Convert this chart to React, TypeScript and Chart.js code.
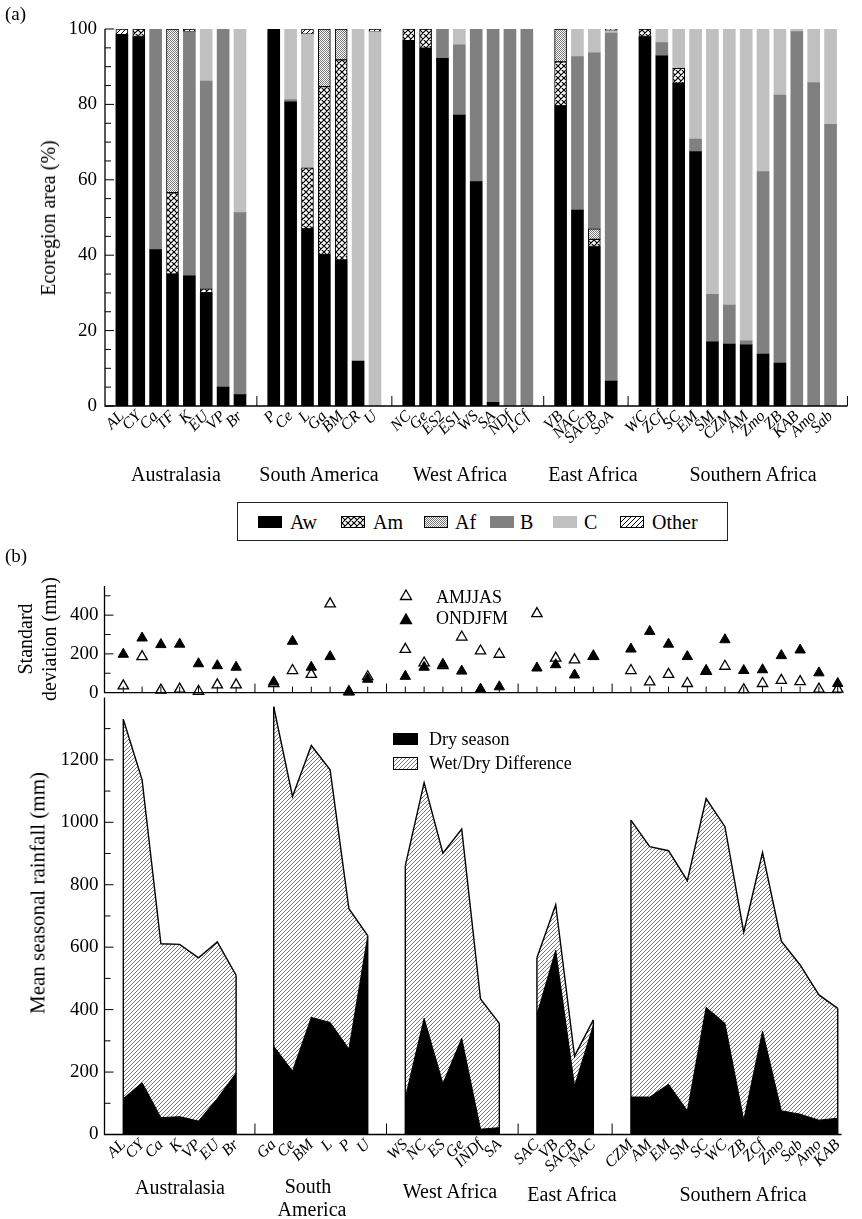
import React, { useEffect, useMemo, useRef } from 'react';
import { Chart, registerables } from 'chart.js';

Chart.register(...registerables);

const SERIF = '"Liberation Serif", "DejaVu Serif", serif';
Chart.defaults.font.family = SERIF;

/* ---------------- (a) climate composition of each ecoregion (%) ---------------- */
const ecoGroups = ['Australasia', 'South America', 'West Africa', 'East Africa', 'Southern Africa'];
const ecoRegions = [
  ['AL', 'CY', 'Ca', 'TF', 'K', 'EU', 'VP', 'Br'],
  ['P', 'Ce', 'L', 'Ga', 'BM', 'CR', 'U'],
  ['NC', 'Ge', 'ES2', 'ES1', 'WS', 'SA', 'NDf', 'LCf'],
  ['VB', 'NAC', 'SACB', 'SoA'],
  ['WC', 'ZCf', 'SC', 'EM', 'SM', 'CZM', 'AM', 'Zmo', 'ZB', 'KAB', 'Amo', 'Sab'],
];
const awPct = [98.5, 98, 41.5, 35, 34.5, 30, 5, 3, 100, 80.7, 47, 40.1, 38.7, 11.9, 0, 96.9, 94.9, 92.2, 77.2, 59.5, 1, 0, 0, 79.6, 52, 42.3, 6.6, 98, 92.9, 85.6, 67.5, 17, 16.4, 16.2, 13.8, 11.4, 0, 0, 0];
const amPct = [0, 2, 0, 21.6, 0, 1.1, 0, 0, 0, 0, 16.2, 44.6, 53.1, 0, 0, 3.1, 5.1, 0, 0, 0, 0, 0, 0, 11.7, 0, 1.9, 0, 2, 0, 4, 0, 0, 0, 0, 0, 0, 0, 0, 0];
const afPct = [0, 0, 0, 43.4, 0, 0, 0, 0, 0, 0, 0, 15.3, 8.2, 0, 0, 0, 0, 0, 0, 0, 0, 0, 0, 8.7, 0, 2.8, 0, 0, 0, 0, 0, 0, 0, 0, 0, 0, 0, 0, 0];
const bPct = [0, 0, 58.5, 0, 64.8, 55.1, 95, 48.3, 0, 0.6, 0, 0, 0, 0, 0, 0, 0, 7.8, 18.6, 40.5, 99, 100, 100, 0, 40.7, 46.7, 92.3, 0, 3.5, 0, 3.3, 12.6, 10.4, 1.1, 48.4, 71.1, 99.3, 85.8, 74.7];
const cPct = [0, 0, 0, 0, 0, 13.8, 0, 48.7, 0, 18.7, 35.4, 0, 0, 88.1, 99.3, 0, 0, 0, 4.2, 0, 0, 0, 0, 0, 7.3, 6.3, 0.6, 0, 3.6, 10.4, 29.2, 70.4, 73.2, 82.7, 37.8, 17.5, 0.7, 14.2, 25.3];
const otherPct = [1.5, 0, 0, 0, 0.7, 0, 0, 0, 0, 0, 1.4, 0, 0, 0, 0.7, 0, 0, 0, 0, 0, 0, 0, 0, 0, 0, 0, 0.5, 0, 0, 0, 0, 0, 0, 0, 0, 0, 0, 0, 0];
const ecoTicks = [0, 20, 40, 60, 80, 100];

/* ---------------- (b) seasonal rainfall and its variability ---------------- */
const rainGroups = ['Australasia', 'South America', 'West Africa', 'East Africa', 'Southern Africa'];
const rainRegions = [
  ['AL', 'CY', 'Ca', 'K', 'VP', 'EU', 'Br'],
  ['Ga', 'Ce', 'BM', 'L', 'P', 'U'],
  ['WS', 'NC', 'ES', 'Ge', 'INDf', 'SA'],
  ['SAC', 'VB', 'SACB', 'NAC'],
  ['CZM', 'AM', 'EM', 'SM', 'SC', 'WC', 'ZB', 'ZCf', 'Zmo', 'Sab', 'Amo', 'KAB'],
];
const sdAMJJAS = [35, 186, 13, 18, 7, 40, 40, 47, 114, 94, 458, 5, 82, 223, 153, 140, 287, 215, 198, 408, 178, 169, 188, 114, 55, 94, 47, 110, 136, 15, 47, 63, 57, 18, 18];
const sdONDJFM = [198, 282, 248, 250, 149, 139, 131, 55, 265, 131, 186, 3, 69, 84, 131, 146, 111, 18, 30, 127, 144, 91, 186, 225, 316, 250, 186, 114, 273, 114, 118, 191, 220, 102, 47];
const dryRain = [115, 166, 54, 57, 43, 115, 197, 283, 203, 375, 359, 274, 635, 118, 372, 163, 308, 17, 22, 384, 590, 155, 350, 120, 120, 161, 76, 407, 356, 46, 331, 76, 65, 46, 52];
const wetRain = [1330, 1136, 611, 609, 566, 617, 510, 1370, 1083, 1246, 1168, 723, 637, 861, 1127, 901, 978, 434, 356, 566, 736, 251, 367, 1007, 922, 909, 813, 1076, 986, 648, 903, 619, 543, 447, 404];
const sdTicks = [0, 200, 400];
const rainTicks = [0, 200, 400, 600, 800, 1000, 1200];

const RAIN_XMAX = 39.2;

type Kind = 'cross' | 'checker' | 'diag' | 'hatch';

// small repeating tiles used as fill patterns
function makeTile(kind: Kind): HTMLCanvasElement {
  const c = document.createElement('canvas');
  const s = kind === 'cross' ? 6 : kind === 'checker' ? 2 : kind === 'diag' ? 5 : 4;
  c.width = s;
  c.height = s;
  const g = c.getContext('2d')!;
  g.fillStyle = '#fff';
  g.fillRect(0, 0, s, s);
  if (kind === 'checker') {
    g.fillStyle = '#7a7a7a';
    g.fillRect(0, 0, 1, 1);
    g.fillRect(1, 1, 1, 1);
    return c;
  }
  g.strokeStyle = kind === 'hatch' ? '#555' : '#000';
  g.lineWidth = kind === 'cross' ? 1.2 : kind === 'hatch' ? 0.8 : 1;
  g.beginPath();
  for (const d of [-s, 0, s]) {
    g.moveTo(d - 1, s + 1);
    g.lineTo(d + s + 1, -1);
    if (kind === 'cross') {
      g.moveTo(d - 1, -1);
      g.lineTo(d + s + 1, s + 1);
    }
  }
  g.stroke();
  return c;
}

// slot positions of grouped categories, one empty slot after each group
function layoutGroups(groups: string[][]) {
  const pos: number[] = [];
  const names: string[] = [];
  const gaps: number[] = [];
  const spans: [number, number][] = [];
  let p = 1;
  groups.forEach((g) => {
    const start = p;
    g.forEach((n) => {
      pos.push(p);
      names.push(n);
      p++;
    });
    spans.push([start, p - 1]);
    gaps.push(p);
    p++;
  });
  return { pos, names, gaps, spans, end: p - 1 };
}

function drawInwardY(ctx: CanvasRenderingContext2D, scale: any, left: number, from: number, to: number, step: number, major: number) {
  for (let v = from; v <= to; v += step) {
    const py = scale.getPixelForValue(v);
    const len = v % major === 0 ? 9 : 6;
    ctx.moveTo(left, py);
    ctx.lineTo(left + len, py);
  }
}

const categoryTicks = (labelAt: Map<number, string>) => ({
  stepSize: 1,
  autoSkip: false,
  includeBounds: false,
  maxTicksLimit: 200,
  minRotation: 45,
  maxRotation: 45,
  padding: 1,
  color: '#000',
  font: { family: SERIF, size: 16, style: 'italic' },
  callback: (v: any) => labelAt.get(Number(v)) ?? '',
});

function EcoChart() {
  const ref = useRef<HTMLCanvasElement>(null);
  useEffect(() => {
    const canvas = ref.current!;
    const g = canvas.getContext('2d')!;
    const pat = (k: Kind) => g.createPattern(makeTile(k), 'repeat')!;
    const L = layoutGroups(ecoRegions);
    const labelAt = new Map(L.pos.map((p, i) => [p, L.names[i]] as [number, string]));
    const series = [
      { label: 'Aw', values: awPct, bg: '#000' as any, bw: 0 },
      { label: 'Am', values: amPct, bg: pat('cross'), bw: 1 },
      { label: 'Af', values: afPct, bg: pat('checker'), bw: 1 },
      { label: 'B', values: bPct, bg: '#808080', bw: 0 },
      { label: 'C', values: cPct, bg: '#c0c0c0', bw: 0 },
      { label: 'Other', values: otherPct, bg: pat('diag'), bw: 1 },
    ];
    const axes = {
      id: 'ecoAxes',
      afterDraw(chart: any) {
        const { ctx, chartArea } = chart;
        const x = chart.scales.x;
        const y = chart.scales.y;
        ctx.save();
        ctx.strokeStyle = '#000';
        ctx.lineWidth = 1.3;
        ctx.beginPath();
        ctx.moveTo(chartArea.left, y.getPixelForValue(100));
        ctx.lineTo(chartArea.left, chartArea.bottom);
        ctx.lineTo(chartArea.right, chartArea.bottom);
        ctx.stroke();
        ctx.lineWidth = 1;
        ctx.beginPath();
        drawInwardY(ctx, y, chartArea.left, 0, 100, 5, 20);
        L.gaps.forEach((p) => {
          const px = x.getPixelForValue(p);
          ctx.moveTo(px, chartArea.bottom);
          ctx.lineTo(px, chartArea.bottom - 10);
        });
        ctx.stroke();
        ctx.restore();
      },
    };
    const chart = new Chart(canvas, {
      type: 'bar',
      data: {
        datasets: series.map((s) => ({
          label: s.label,
          data: L.pos.map((p, i) => ({ x: p, y: s.values[i] > 0 ? s.values[i] : null })),
          backgroundColor: s.bg,
          borderColor: '#000',
          borderWidth: s.bw,
          borderSkipped: false,
          barThickness: 12,
        })),
      } as any,
      options: {
        responsive: false,
        animation: false,
        events: [],
        layout: { padding: { left: 0, right: 3, top: 29, bottom: 0 } },
        plugins: { legend: { display: false }, tooltip: { enabled: false } },
        scales: {
          x: {
            type: 'linear',
            stacked: true,
            offset: false,
            min: 0,
            max: L.end,
            grid: { display: false, drawTicks: false },
            border: { display: false },
            ticks: categoryTicks(labelAt),
            afterFit: (s: any) => {
              s.height = 64;
            },
          },
          y: {
            stacked: true,
            min: 0,
            max: 100,
            grid: { display: false, drawTicks: false },
            border: { display: false },
            ticks: {
              stepSize: 20,
              padding: 8,
              color: '#000',
              font: { family: SERIF, size: 19 },
              callback: (v: any) => (ecoTicks.includes(Number(v)) ? String(v) : ''),
            },
            afterFit: (s: any) => {
              s.width = 105;
            },
          },
        },
      } as any,
      plugins: [axes],
    });
    return () => chart.destroy();
  }, []);
  return <canvas ref={ref} width={862} height={470} style={{ position: 'absolute', left: 0, top: 0 }} />;
}

function SdChart() {
  const ref = useRef<HTMLCanvasElement>(null);
  useEffect(() => {
    const canvas = ref.current!;
    const L = layoutGroups(rainRegions);
    const axes = {
      id: 'sdAxes',
      afterDraw(chart: any) {
        const { ctx, chartArea } = chart;
        const x = chart.scales.x;
        const y = chart.scales.y;
        ctx.save();
        ctx.strokeStyle = '#000';
        ctx.lineWidth = 1.3;
        ctx.beginPath();
        ctx.moveTo(chartArea.left, chartArea.top);
        ctx.lineTo(chartArea.left, chartArea.bottom);
        ctx.lineTo(chartArea.right, chartArea.bottom);
        ctx.stroke();
        ctx.lineWidth = 1;
        ctx.beginPath();
        drawInwardY(ctx, y, chartArea.left, 100, 500, 100, 200);
        for (let p = 1; p <= Math.floor(RAIN_XMAX); p++) {
          const px = x.getPixelForValue(p);
          const len = L.gaps.includes(p) ? 9 : 6;
          ctx.moveTo(px, chartArea.bottom);
          ctx.lineTo(px, chartArea.bottom - len);
        }
        ctx.stroke();
        ctx.restore();
      },
    };
    const chart = new Chart(canvas, {
      type: 'scatter',
      data: {
        datasets: [
          {
            label: 'ONDJFM',
            data: L.pos.map((p, i) => ({ x: p, y: sdONDJFM[i] })),
            pointStyle: 'triangle',
            pointRadius: 6,
            backgroundColor: '#000',
            borderColor: '#000',
            borderWidth: 1,
            order: 0,
            clip: false,
          },
          {
            label: 'AMJJAS',
            data: L.pos.map((p, i) => ({ x: p, y: sdAMJJAS[i] })),
            pointStyle: 'triangle',
            pointRadius: 6,
            backgroundColor: '#fff',
            borderColor: '#000',
            borderWidth: 1.3,
            order: 1,
            clip: false,
          },
        ],
      } as any,
      options: {
        responsive: false,
        animation: false,
        events: [],
        layout: { padding: { left: 0, right: 20.5, top: 26.1, bottom: 14.7 } },
        plugins: { legend: { display: false }, tooltip: { enabled: false } },
        scales: {
          x: { type: 'linear', min: 0, max: RAIN_XMAX, display: false },
          y: {
            min: 0,
            max: 550,
            grid: { display: false, drawTicks: false },
            border: { display: false },
            ticks: {
              stepSize: 100,
              autoSkip: false,
              padding: 6,
              color: '#000',
              font: { family: SERIF, size: 19 },
              callback: (v: any) => (sdTicks.includes(Number(v)) ? String(v) : ''),
            },
            afterFit: (s: any) => {
              s.width = 104.5;
            },
          },
        },
      } as any,
      plugins: [axes],
    });
    return () => chart.destroy();
  }, []);
  return <canvas ref={ref} width={862} height={150} style={{ position: 'absolute', left: 0, top: 560 }} />;
}

function RainChart() {
  const ref = useRef<HTMLCanvasElement>(null);
  useEffect(() => {
    const canvas = ref.current!;
    const g = canvas.getContext('2d')!;
    const hatch = g.createPattern(makeTile('hatch'), 'repeat')!;
    const L = layoutGroups(rainRegions);
    const labelAt = new Map(L.pos.map((p, i) => [p, L.names[i]] as [number, string]));
    const withGaps = (vals: number[]) => {
      const out: { x: number; y: number | null }[] = [];
      let k = 0;
      L.spans.forEach(([a, b], gi) => {
        for (let p = a; p <= b; p++) out.push({ x: p, y: vals[k++] });
        if (gi < L.spans.length - 1) out.push({ x: b + 1, y: null });
      });
      return out;
    };
    const axes = {
      id: 'rainAxes',
      afterDraw(chart: any) {
        const { ctx, chartArea } = chart;
        const x = chart.scales.x;
        const y = chart.scales.y;
        ctx.save();
        ctx.strokeStyle = '#000';
        ctx.lineWidth = 1.3;
        ctx.beginPath();
        ctx.moveTo(chartArea.left, chartArea.top);
        ctx.lineTo(chartArea.left, chartArea.bottom);
        ctx.lineTo(chartArea.right, chartArea.bottom);
        ctx.stroke();
        ctx.lineWidth = 1;
        ctx.beginPath();
        drawInwardY(ctx, y, chartArea.left, 100, 1300, 100, 200);
        L.gaps.forEach((p) => {
          if (p > RAIN_XMAX) return;
          const px = x.getPixelForValue(p);
          ctx.moveTo(px, chartArea.bottom);
          ctx.lineTo(px, chartArea.bottom - 11);
        });
        ctx.stroke();
        // closing sides of each group's wet-season outline
        ctx.lineWidth = 1.4;
        ctx.beginPath();
        L.spans.forEach(([a, b]) => {
          [a, b].forEach((p) => {
            const i = L.pos.indexOf(p);
            const px = x.getPixelForValue(p);
            ctx.moveTo(px, chartArea.bottom);
            ctx.lineTo(px, y.getPixelForValue(wetRain[i]));
          });
        });
        ctx.stroke();
        ctx.restore();
      },
    };
    const chart = new Chart(canvas, {
      type: 'line',
      data: {
        datasets: [
          {
            label: 'Wet season',
            data: withGaps(wetRain),
            borderColor: '#000',
            borderWidth: 1.4,
            backgroundColor: hatch,
            fill: 'origin',
            pointRadius: 0,
            tension: 0,
            spanGaps: false,
            order: 1,
          },
          {
            label: 'Dry season',
            data: withGaps(dryRain),
            borderColor: '#000',
            borderWidth: 1,
            backgroundColor: '#000',
            fill: 'origin',
            pointRadius: 0,
            tension: 0,
            spanGaps: false,
            order: 0,
          },
        ],
      } as any,
      options: {
        responsive: false,
        animation: false,
        events: [],
        layout: { padding: { left: 0, right: 20.5, top: 15, bottom: 0 } },
        plugins: { legend: { display: false }, tooltip: { enabled: false } },
        scales: {
          x: {
            type: 'linear',
            min: 0,
            max: RAIN_XMAX,
            offset: false,
            grid: { display: false, drawTicks: false },
            border: { display: false },
            ticks: categoryTicks(labelAt),
            afterFit: (s: any) => {
              s.height = 84.5;
            },
          },
          y: {
            min: 0,
            max: 1400,
            grid: { display: false, drawTicks: false },
            border: { display: false },
            ticks: {
              stepSize: 100,
              autoSkip: false,
              padding: 6,
              color: '#000',
              font: { family: SERIF, size: 19 },
              callback: (v: any) => (rainTicks.includes(Number(v)) ? String(v) : ''),
            },
            afterFit: (s: any) => {
              s.width = 104.5;
            },
          },
        },
      } as any,
      plugins: [axes],
    });
    return () => chart.destroy();
  }, []);
  return <canvas ref={ref} width={862} height={539} style={{ position: 'absolute', left: 0, top: 680 }} />;
}

type TxtProps = {
  x: number;
  y: number;
  size?: number;
  align?: 'center' | 'left';
  rotate?: boolean;
  children: React.ReactNode;
};

function Txt({ x, y, size = 20, align = 'center', rotate = false, children }: TxtProps) {
  const tx = align === 'center' ? '-50%' : '0';
  return (
    <div
      style={{
        position: 'absolute',
        left: x,
        top: y,
        fontSize: size,
        lineHeight: 1,
        whiteSpace: 'nowrap',
        transform: `translate(${tx}, -50%)${rotate ? ' rotate(-90deg)' : ''}`,
        transformOrigin: rotate ? '50% 50%' : undefined,
      }}
    >
      {children}
    </div>
  );
}

function Triangle({ x, y, filled }: { x: number; y: number; filled: boolean }) {
  return (
    <svg width={14} height={12} style={{ position: 'absolute', left: x - 7, top: y - 6 }}>
      <polygon points="7,1 12.5,10.5 1.5,10.5" fill={filled ? '#000' : '#fff'} stroke="#000" strokeWidth={1.3} />
    </svg>
  );
}

export default function App() {
  const tiles = useMemo(
    () => ({
      cross: makeTile('cross').toDataURL(),
      checker: makeTile('checker').toDataURL(),
      diag: makeTile('diag').toDataURL(),
      hatch: makeTile('hatch').toDataURL(),
    }),
    []
  );
  const ecoLegend = [
    { label: 'Aw', sx: 258, tx: 290, bg: '#000', border: false },
    { label: 'Am', sx: 341, tx: 373, bg: `url(${tiles.cross})`, border: true },
    { label: 'Af', sx: 424, tx: 455, bg: `url(${tiles.checker})`, border: true },
    { label: 'B', sx: 490, tx: 520, bg: '#808080', border: false },
    { label: 'C', sx: 553, tx: 584, bg: '#c0c0c0', border: false },
    { label: 'Other', sx: 620, tx: 652, bg: `url(${tiles.diag})`, border: true },
  ];
  const ecoGroupX = [176, 319, 460, 593, 753];
  return (
    <div
      style={{
        position: 'absolute',
        left: 0,
        top: 0,
        width: 862,
        height: 1219,
        background: '#fff',
        color: '#000',
        fontFamily: SERIF,
        overflow: 'hidden',
      }}
    >
      <EcoChart />
      <RainChart />
      <SdChart />

      <Txt x={5} y={13} size={19} align="left">(a)</Txt>
      <Txt x={48} y={218} rotate>Ecoregion area (%)</Txt>
      {ecoGroups.map((name, i) => (
        <Txt key={name} x={ecoGroupX[i]} y={474}>{name}</Txt>
      ))}

      <div
        style={{
          position: 'absolute',
          left: 237,
          top: 502,
          width: 491,
          height: 39,
          border: '1.3px solid #222',
          boxSizing: 'border-box',
        }}
      />
      {ecoLegend.map((it) => (
        <React.Fragment key={it.label}>
          <div
            style={{
              position: 'absolute',
              left: it.sx,
              top: 516,
              width: 24,
              height: 12,
              background: it.bg,
              border: it.border ? '1px solid #000' : 'none',
              boxSizing: 'border-box',
            }}
          />
          <Txt x={it.tx} y={522} align="left">{it.label}</Txt>
        </React.Fragment>
      ))}

      <Txt x={5} y={555} size={19} align="left">(b)</Txt>
      <Txt x={25} y={639} rotate>Standard</Txt>
      <Txt x={49} y={639} rotate>deviation (mm)</Txt>
      <Triangle x={405.5} y={595} filled={false} />
      <Txt x={436} y={597} size={18} align="left">AMJJAS</Txt>
      <Triangle x={405.5} y={619} filled />
      <Txt x={436} y={618} size={18} align="left">ONDJFM</Txt>

      <Txt x={38} y={893} size={21} rotate>Mean seasonal rainfall (mm)</Txt>
      <div style={{ position: 'absolute', left: 393, top: 733, width: 25, height: 12, background: '#000' }} />
      <Txt x={429} y={739} size={18} align="left">Dry season</Txt>
      <div
        style={{
          position: 'absolute',
          left: 393,
          top: 757,
          width: 25,
          height: 13,
          background: `url(${tiles.hatch})`,
          border: '1px solid #000',
          boxSizing: 'border-box',
        }}
      />
      <Txt x={429} y={763} size={18} align="left">Wet/Dry Difference</Txt>

      <Txt x={180} y={1187}>{rainGroups[0]}</Txt>
      <Txt x={308} y={1186}>South</Txt>
      <Txt x={312} y={1209}>America</Txt>
      <Txt x={450} y={1191}>{rainGroups[2]}</Txt>
      <Txt x={572} y={1194}>{rainGroups[3]}</Txt>
      <Txt x={743} y={1194}>{rainGroups[4]}</Txt>
    </div>
  );
}
